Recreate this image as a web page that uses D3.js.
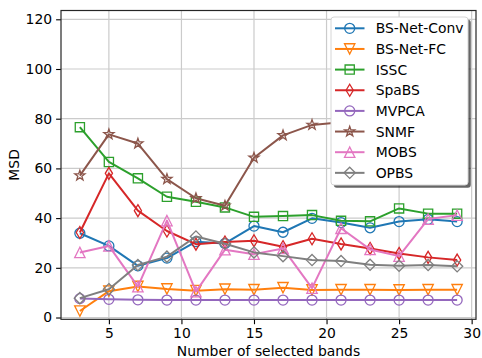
<!DOCTYPE html>
<html>
<head>
<meta charset="utf-8">
<script src="https://cdn.jsdelivr.net/npm/d3@7"></script>
<style>
	body { margin: 0; background: #fff; }
	svg { display: block; font-family: "DejaVu Sans", sans-serif; }
</style>
</head>
<body>
<div id="chart"></div>
<script>
// number of selected bands on the x axis
var bands = [3, 5, 7, 9, 11, 13, 15, 17, 19, 21, 23, 25, 27, 29];

// MSD for each method
var bsNetConv = [33.9, 28.8, 20.8, 23.9, 30.5, 29.8, 36.8, 34.3, 39.9, 38.2, 36.1, 38.6, 39.5, 38.6];
var bsNetFc   = [2.6, 10.6, 12.5, 11.5, 10.8, 11.4, 11.2, 12.0, 11.1, 11.2, 11.2, 11.1, 11.2, 11.2];
var issc      = [76.6, 62.6, 56.0, 48.6, 46.6, 44.3, 40.5, 40.8, 41.2, 38.9, 38.7, 43.9, 41.8, 41.8];
var spaBS     = [34.2, 58.0, 43.0, 34.8, 29.5, 30.4, 30.9, 28.5, 31.7, 29.6, 27.8, 25.8, 24.2, 23.1];
var mvpca     = [7.6, 7.3, 7.1, 7.0, 7.0, 7.0, 7.0, 7.0, 7.0, 7.0, 7.0, 7.0, 7.0, 7.0];
var snmf      = [57.1, 73.7, 70.0, 55.7, 48.0, 45.0, 64.3, 73.3, 77.5, 78.6, 79.5, 80.2, 80.8, 81.2];
var mobs      = [26.2, 28.8, 12.4, 39.0, 10.4, 27.3, 25.5, 27.8, 11.8, 35.9, 27.4, 24.7, 39.6, 41.2];
var opbs      = [7.8, 11.4, 21.1, 24.5, 32.6, 29.7, 26.2, 24.7, 23.1, 22.7, 21.2, 20.8, 21.1, 20.6];

var seriesNames = ['BS-Net-Conv', 'BS-Net-FC', 'ISSC', 'SpaBS', 'MVPCA', 'SNMF', 'MOBS', 'OPBS'];
var seriesValues = [bsNetConv, bsNetFc, issc, spaBS, mvpca, snmf, mobs, opbs];

var xTicks = [5, 10, 15, 20, 25, 30];
var yTicks = [0, 20, 40, 60, 80, 100, 120];

var colors = ['#1f77b4', '#ff7f0e', '#2ca02c', '#d62728', '#9467bd', '#8c564b', '#e377c2', '#7f7f7f'];
var markers = ['circle', 'tri_down', 'square', 'thin_diamond', 'circle', 'star', 'tri_up', 'diamond'];

var width = 482, height = 358;
var plotLeft = 61, plotRight = 476, plotTop = 10.5, plotBottom = 319.3;
var fontSize = 13.9;

var svg = d3.select('#chart')
	.append('svg')
		.attr('width', width)
		.attr('height', height);

var x = d3.scaleLinear().domain([1.7, 30.3]).range([plotLeft, plotRight]);
var y = d3.scaleLinear().domain([-0.72, 123.54]).range([plotBottom, plotTop]);

// marker outline for a given kind, centred on 0,0
function markerPath(kind)
{
	var p = d3.path();
	if (kind == 'circle')
	{
		p.arc(0, 0, 5, 0, 2 * Math.PI);
	}
	else if (kind == 'square')
	{
		p.rect(-4.6, -4.6, 9.2, 9.2);
	}
	else if (kind == 'tri_down')
	{
		p.moveTo(0, 5.2); p.lineTo(-5.2, -5.2); p.lineTo(5.2, -5.2); p.closePath();
	}
	else if (kind == 'tri_up')
	{
		p.moveTo(0, -5.2); p.lineTo(-5.2, 5.2); p.lineTo(5.2, 5.2); p.closePath();
	}
	else if (kind == 'diamond')
	{
		p.moveTo(0, -5.6); p.lineTo(5.6, 0); p.lineTo(0, 5.6); p.lineTo(-5.6, 0); p.closePath();
	}
	else if (kind == 'thin_diamond')
	{
		p.moveTo(0, -6); p.lineTo(3.6, 0); p.lineTo(0, 6); p.lineTo(-3.6, 0); p.closePath();
	}
	else if (kind == 'star')
	{
		for (var i = 0; i < 10; i++)
		{
			var r = (i % 2 == 0) ? 5.3 : 2.1;
			var a = -Math.PI / 2 + i * Math.PI / 5;
			if (i == 0) p.moveTo(r * Math.cos(a), r * Math.sin(a));
			else p.lineTo(r * Math.cos(a), r * Math.sin(a));
		}
		p.closePath();
	}
	return p.toString();
}

// grid
var grid = svg.append('g');
grid.selectAll('line.gx')
	.data(xTicks)
	.enter().append('line')
		.attr('x1', d => x(d)).attr('x2', d => x(d))
		.attr('y1', plotTop).attr('y2', plotBottom)
		.attr('stroke', '#cbcbcb').attr('stroke-width', 1.2);
grid.selectAll('line.gy')
	.data(yTicks)
	.enter().append('line')
		.attr('x1', plotLeft).attr('x2', plotRight)
		.attr('y1', d => y(d)).attr('y2', d => y(d))
		.attr('stroke', '#cbcbcb').attr('stroke-width', 1.2);

// series
var line = d3.line()
	.x((d, i) => x(bands[i]))
	.y(d => y(d));

var plot = svg.append('g');
for (var k = 0; k < seriesValues.length; k++)
{
	var g = plot.append('g');
	g.append('path')
		.attr('d', line(seriesValues[k]))
		.attr('fill', 'none')
		.attr('stroke', colors[k])
		.attr('stroke-width', 2)
		.attr('stroke-linejoin', 'round');
	g.selectAll('path.marker')
		.data(seriesValues[k])
		.enter().append('path')
			.attr('class', 'marker')
			.attr('d', markerPath(markers[k]))
			.attr('transform', (d, i) => 'translate(' + x(bands[i]) + ',' + y(d) + ')')
			.attr('fill', 'none')
			.attr('stroke', colors[k])
			.attr('stroke-width', 1.3);
}

// axes
var xAxis = svg.append('g')
	.attr('transform', 'translate(0,' + plotBottom + ')')
	.call(d3.axisBottom(x).tickValues(xTicks).tickSize(4.9).tickPadding(4));
var yAxis = svg.append('g')
	.attr('transform', 'translate(' + plotLeft + ',0)')
	.call(d3.axisLeft(y).tickValues(yTicks).tickSize(4.9).tickPadding(4));
[xAxis, yAxis].forEach(function(a)
{
	a.select('.domain').remove();
	a.selectAll('text').attr('font-size', fontSize).attr('fill', '#000').attr('font-family', '"DejaVu Sans"');
	a.selectAll('line').attr('stroke', '#000').attr('stroke-width', 1.1);
});

svg.append('rect')
	.attr('x', plotLeft).attr('y', plotTop)
	.attr('width', plotRight - plotLeft).attr('height', plotBottom - plotTop)
	.attr('fill', 'none')
	.attr('stroke', '#262626')
	.attr('stroke-width', 1.2);

svg.append('text')
	.attr('x', (plotLeft + plotRight) / 2)
	.attr('y', 356)
	.attr('text-anchor', 'middle')
	.attr('font-size', fontSize)
	.text('Number of selected bands');

svg.append('text')
	.attr('transform', 'translate(18.5,' + ((plotTop + plotBottom) / 2) + ') rotate(-90)')
	.attr('text-anchor', 'middle')
	.attr('font-size', fontSize)
	.text('MSD');

// legend with a shadow
var lx = 331, ly = 17, lw = 137, lh = 168, rowH = 20.65;
var legend = svg.append('g');
legend.append('rect')
	.attr('x', lx + 2.8).attr('y', ly + 2.8)
	.attr('width', lw).attr('height', lh)
	.attr('rx', 3)
	.attr('fill', 'rgba(0,0,0,0.6)');
legend.append('rect')
	.attr('x', lx).attr('y', ly)
	.attr('width', lw).attr('height', lh)
	.attr('rx', 3)
	.attr('fill', '#fff')
	.attr('stroke', '#d6d6d6')
	.attr('stroke-width', 1);

var rows = legend.selectAll('g.row')
	.data(seriesNames)
	.enter().append('g')
		.attr('transform', (d, i) => 'translate(0,' + (28.3 + i * rowH) + ')');
rows.append('line')
	.attr('x1', 335).attr('x2', 364.5)
	.attr('stroke', (d, i) => colors[i])
	.attr('stroke-width', 2);
rows.append('path')
	.attr('d', (d, i) => markerPath(markers[i]))
	.attr('transform', 'translate(349.7,0)')
	.attr('fill', 'none')
	.attr('stroke', (d, i) => colors[i])
	.attr('stroke-width', 1.3);
rows.append('text')
	.attr('x', 375.7)
	.attr('dy', '0.36em')
	.attr('font-size', fontSize)
	.text(d => d);
</script>
</body>
</html>
